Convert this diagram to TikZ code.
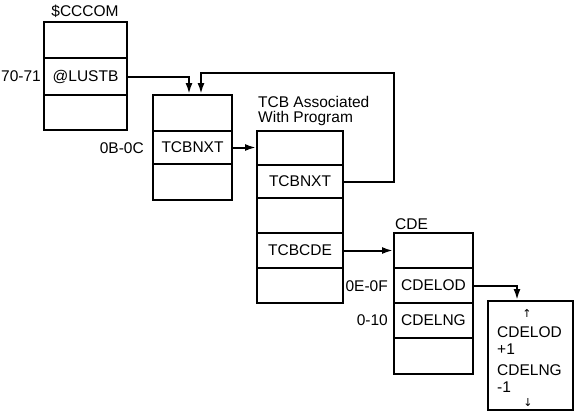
\documentclass[tikz,border=0pt]{standalone}
\usepackage{fontspec}
\setmainfont{Liberation Sans}
\newfontfamily\symfont{DejaVu Sans}
\usetikzlibrary{arrows.meta}
\begin{document}
\begin{tikzpicture}[x=1pt,y=-1pt,
  cell/.style={draw, line width=2pt, inner sep=0pt, font=\fontsize{15.5}{17}\selectfont},
  lab/.style={inner sep=0pt, font=\fontsize{15.5}{17}\selectfont},
  sym/.style={inner sep=0pt, font=\symfont\fontsize{11}{11}\selectfont},
  conn/.style={line width=2pt, -{Latex[length=11pt,width=7pt]}}]
\useasboundingbox (0,0) rectangle (577,412);
% $CCCOM
\node[cell, minimum width=83pt, minimum height=36pt] (a1) at (85.5,40) {};
\node[cell, minimum width=83pt, minimum height=37pt] (a2) at (85.5,76.5) {@LUSTB};
\node[cell, minimum width=83pt, minimum height=35pt] (a3) at (85.5,112.5) {};
% TCB chain box
\node[cell, minimum width=79pt, minimum height=36pt] (b1) at (192.5,113) {};
\node[cell, minimum width=79pt, minimum height=33pt] (b2) at (192.5,147.5) {TCBNXT};
\node[cell, minimum width=79pt, minimum height=36pt] (b3) at (192.5,182) {};
% TCB associated with program
\node[cell, minimum width=86pt, minimum height=34pt] (c1) at (300,148) {};
\node[cell, minimum width=86pt, minimum height=33pt] (c2) at (300,181.5) {TCBNXT};
\node[cell, minimum width=86pt, minimum height=35pt] (c3) at (300,215.5) {};
\node[cell, minimum width=86pt, minimum height=35pt] (c4) at (300,250.5) {TCBCDE};
\node[cell, minimum width=86pt, minimum height=35pt] (c5) at (300,285.5) {};
% CDE
\node[cell, minimum width=79pt, minimum height=35pt] (d1) at (433.5,250.5) {};
\node[cell, minimum width=79pt, minimum height=35pt] (d2) at (433.5,285.5) {CDELOD};
\node[cell, minimum width=79pt, minimum height=35pt] (d3) at (433.5,320.5) {CDELNG};
\node[cell, minimum width=79pt, minimum height=36pt] (d4) at (433.5,356) {};
% load module area
\node[cell, minimum width=85pt, minimum height=109pt] (e) at (530.5,355.5) {};
\node[sym] (eup) at (527,313) {↑};
\node[lab, anchor=west] (e1) at (497,332) {CDELOD};
\node[lab, anchor=west] (e2) at (497,349) {+1};
\node[lab, anchor=west] (e3) at (497,370) {CDELNG};
\node[lab, anchor=west] (e4) at (497,387) {-1};
\node[sym] (edn) at (528,403) {↓};
% labels
\node[lab] (ta) at (85,11) {\$CCCOM};
\node[lab, anchor=east] (la) at (41,76.5) {70-71};
\node[lab, anchor=east] (lb) at (144,148) {0B-0C};
\node[lab, anchor=west, align=left, font=\fontsize{15.5}{15}\selectfont] (tc) at (258,110.5) {TCB Associated\\With Program};
\node[lab, anchor=west] (td) at (395,224) {CDE};
\node[lab, anchor=east] (ld1) at (388,286) {0E-0F};
\node[lab, anchor=east] (ld2) at (388,320.5) {0-10};
% connectors
\coordinate (loop) at (394,72.5);
\draw[conn] (a2.east) -| ([xshift=-3.5pt]b1.north);
\draw[conn] (c2.east) -| (loop) -| ([xshift=8.5pt]b1.north);
\draw[conn] (b2.east) -- (b2.east -| c1.west);
\draw[conn] (c4.east) -- (d1.west);
\draw[conn] (d2.east) -| ([xshift=-13.5pt]e.north);
\end{tikzpicture}
\end{document}
